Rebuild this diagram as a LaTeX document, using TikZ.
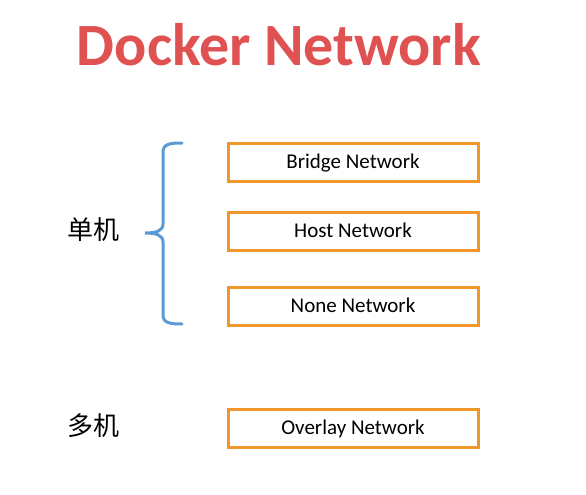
\documentclass[tikz,border=0pt]{standalone}
\usepackage{fontspec}
\setmainfont{Carlito}
\newfontfamily\cjk{Noto Sans CJK SC}
\definecolor{titlered}{HTML}{E05252}
\definecolor{boxorange}{HTML}{F0962A}
\definecolor{braceblue}{HTML}{5B9BD5}
\begin{document}
\begin{tikzpicture}[x=1pt,y=-1pt,
  netbox/.style={draw=boxorange,line width=3pt,minimum width=250pt,minimum height=38pt,inner sep=0pt,text height=15pt,text depth=3pt,font=\fontsize{21}{24}\selectfont,text=black},
  cjklabel/.style={font=\cjk\fontsize{26}{30}\selectfont,text=black},
  bracestyle/.style={draw=braceblue,line width=3pt,line cap=round}]
\useasboundingbox[fill=white] (0,0) rectangle (586,495);
\node[font=\bfseries\fontsize{60}{66}\selectfont,text=titlered] (title) at (279,45) {Docker Network};
\node[netbox] (bridge) at (353,162) {Bridge Network};
\node[netbox] (host) at (353,231) {Host Network};
\node[netbox] (none) at (353,306) {None Network};
\node[netbox] (overlay) at (353,428) {Overlay Network};
\node[cjklabel] (single) at (93,230) {单机};
\node[cjklabel] (multi) at (93,426) {多机};
\draw[bracestyle] (182,143) .. controls (170,143) and (163,144) .. (163,152)
  -- (163,224) .. controls (163,231) and (156,233) .. (145,233)
  .. controls (156,233) and (163,235) .. (163,242)
  -- (163,315) .. controls (163,323) and (170,324) .. (182,324);
\end{tikzpicture}
\end{document}
